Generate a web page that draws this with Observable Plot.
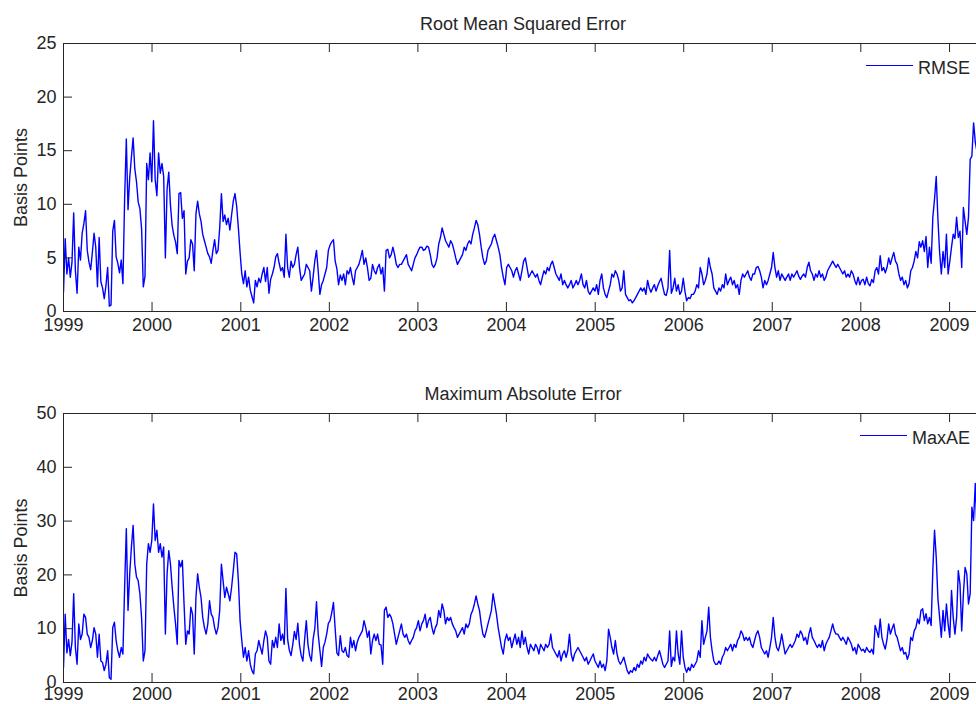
<!DOCTYPE html>
<html><head><meta charset="utf-8">
<script src="https://cdn.jsdelivr.net/npm/d3@7"></script>
<script src="https://cdn.jsdelivr.net/npm/@observablehq/plot@0.6"></script>
<style>
html,body{margin:0;padding:0;background:#fff;}
body{width:976px;height:704px;overflow:hidden;}
#chart > svg{display:block;}
</style></head>
<body><div id="chart"></div>
<script>
// Weekly observations starting at this date
const seriesStart = "1999-01-01";
const axisEnd = "2009-04-22";
const yearTicks = [1999, 2000, 2001, 2002, 2003, 2004, 2005, 2006, 2007, 2008, 2009];
const rmseTicks = [0, 5, 10, 15, 20, 25];
const maxaeTicks = [0, 10, 20, 30, 40, 50];
const titles = ["Root Mean Squared Error", "Maximum Absolute Error"];
const seriesNames = ["RMSE", "MaxAE"];
const yLabel = "Basis Points";

// Root mean squared error, basis points (weekly)
const rmse = [
1.8,6.8,3.5,5.0,3.2,4.6,9.2,3.8,1.7,6.0,
4.8,7.3,8.2,9.4,5.7,4.6,3.9,5.5,7.3,6.0,
2.3,6.9,2.8,2.2,1.2,2.4,4.1,0.5,0.6,7.5,
8.5,5.1,4.5,3.6,4.8,2.6,10.5,16.1,9.5,12.5,
14.4,16.2,13.3,12.1,10.2,9.6,7.7,2.3,3.3,13.8,
12.3,14.8,12.1,17.8,12.3,10.8,14.8,12.9,13.8,12.6,
5.0,11.4,13.0,9.9,8.0,7.1,6.5,
5.4,11.0,11.1,8.7,9.4,3.5,4.7,5.0,6.7,6.3,
3.8,9.1,10.3,9.1,8.4,7.2,6.6,6.0,5.4,5.1,
4.5,5.7,6.7,5.4,5.7,7.8,11.0,8.4,9.0,8.1,
8.7,7.6,9.0,10.3,11.0,9.8,7.8,5.5,3.5,2.6,
3.8,2.3,3.2,2.0,1.4,0.8,2.9,2.3,3.1,2.7,
3.5,4.1,2.8,4.1,1.7,3.0,3.5,4.1,5.1,5.4,
4.5,3.8,4.1,3.2,
7.2,4.1,3.2,4.7,4.1,4.4,5.3,6.0,4.1,2.9,
3.2,3.5,4.4,4.1,3.8,1.9,3.2,4.7,5.7,3.8,
1.6,2.5,2.9,3.5,4.1,5.7,
6.2,6.5,6.7,4.7,4.0,2.5,3.4,2.9,3.5,2.5,
3.8,3.5,4.1,3.2,2.5,3.8,4.1,4.4,5.0,5.7,
4.4,5.0,4.1,2.9,3.1,4.4,3.8,3.5,4.1,4.4,
3.5,4.1,1.9,5.7,5.8,5.0,5.3,6.0,5.3,4.4,
4.1,4.4,4.4,4.7,5.0,5.3,4.4,4.1,3.8,4.4,
5.0,5.3,5.7,6.0,6.0,5.7,5.8,6.1,6.0,5.3,
4.4,4.1,4.4,5.0,6.3,6.9,7.8,7.2,6.6,6.3,
6.0,6.6,6.3,5.7,5.0,4.4,4.7,5.0,5.3,6.0,
5.7,6.3,6.6,6.3,7.2,7.8,8.5,8.1,7.2,6.0,
5.0,4.4,4.7,5.7,6.0,6.3,6.9,7.2,6.6,6.0,
5.3,4.1,3.2,2.5,4.1,4.4,4.1,3.8,3.2,3.8,
4.1,3.5,2.9,3.8,4.7,5.0,4.1,3.2,3.5,3.8,
3.5,3.2,3.5,2.9,2.5,3.2,3.8,3.5,4.1,3.8,
4.4,4.7,4.1,3.5,3.2,2.9,3.5,2.5,2.9,2.5,
2.2,2.5,2.9,2.2,2.5,2.9,2.5,2.9,3.5,2.5,
2.2,2.9,1.9,1.6,1.9,2.2,1.9,2.5,1.6,2.9,
3.5,2.2,1.6,1.3,1.9,2.5,3.5,3.2,3.8,3.5,
2.9,1.9,2.2,3.8,1.6,1.3,1.0,1.1,0.8,1.0,
1.3,1.6,1.9,2.2,1.9,2.2,1.6,2.9,2.2,
1.8,2.2,2.5,1.9,2.4,2.8,3.1,2.3,1.6,1.5,
2.2,5.7,1.7,2.2,3.1,1.9,2.5,1.6,1.9,3.1,
1.9,1.0,1.3,1.2,1.6,1.6,1.9,2.5,2.2,4.1,
3.5,2.5,2.9,3.5,5.0,4.1,3.5,2.2,1.9,1.6,
2.2,1.9,2.5,2.2,3.5,2.5,2.9,3.2,2.5,2.9,
2.2,2.5,1.6,2.9,3.5,3.2,3.5,3.8,3.2,2.9,
3.5,3.5,4.1,4.2,3.8,3.2,2.2,2.9,2.5,2.9,
3.5,4.1,5.5,4.1,3.2,3.8,2.9,3.5,3.2,2.9,
3.2,3.5,2.9,3.5,3.2,3.5,3.8,3.3,3.0,3.3,
3.5,3.2,4.1,4.6,3.8,3.5,2.9,3.5,3.2,3.8,
3.2,3.5,2.9,3.2,3.8,4.1,4.4,4.7,4.4,4.1,
4.4,4.1,3.8,3.5,3.8,3.2,3.5,3.2,3.8,3.5,
2.9,2.5,3.2,2.5,2.9,3.0,2.5,3.2,2.6,2.4,
3.0,2.7,3.8,4.1,3.5,5.2,3.8,4.1,3.6,4.1,
5.0,4.4,5.0,5.5,4.7,4.4,3.5,2.9,3.2,2.5,
2.9,2.2,2.6,3.8,4.1,4.7,5.6,5.0,6.5,6.0,
6.6,5.6,7.0,4.1,6.0,4.5,8.8,10.5,12.6,8.6,
5.5,3.5,5.6,4.1,7.2,3.5,4.7,6.0,7.2,6.8,
8.8,6.9,7.5,4.1,9.7,8.4,7.2,8.8,14.2,14.5,
17.6,15.8,14.9
];

// Maximum absolute error, basis points (weekly)
const maxae = [
2.8,12.7,5.5,8.0,5.0,7.5,16.5,6.5,3.4,10.9,
8.0,9.0,12.7,12.1,9.0,8.4,6.5,7.8,10.2,9.0,
4.7,9.0,4.0,3.7,2.2,3.4,5.9,0.9,0.6,10.2,
11.2,7.8,5.9,4.7,6.5,5.3,17.7,28.6,13.4,20.2,
25.2,29.2,22.0,19.6,18.9,16.5,12.0,4.0,5.9,22.0,
25.8,24.2,26.4,33.2,26.4,28.3,24.2,25.8,23.3,25.2,
9.0,20.2,24.5,22.0,17.7,14.0,10.9,
7.1,22.7,21.5,22.7,14.6,7.1,9.6,9.0,14.0,12.7,
5.3,15.8,20.2,17.7,15.8,12.1,10.2,9.0,10.9,15.2,
12.7,12.1,10.2,9.0,10.2,13.4,22.0,18.9,15.8,17.7,
16.5,15.2,17.7,20.8,24.2,23.9,18.9,11.5,7.8,4.7,
6.5,4.0,5.9,3.4,2.2,1.6,5.3,5.9,7.8,6.5,
5.3,7.8,9.6,8.4,4.0,3.4,7.8,6.5,8.4,6.5,
10.9,7.8,9.0,7.1,
17.5,8.0,6.0,5.0,7.0,9.5,8.0,11.0,7.0,5.0,
4.0,8.0,11.5,7.0,5.0,4.0,8.0,10.0,15.0,9.0,
6.0,3.0,6.5,7.5,9.0,11.0,
11.5,13.0,14.9,10.0,5.5,5.0,8.7,5.9,5.6,6.5,
5.0,4.7,8.4,6.5,7.8,5.9,7.5,8.4,9.0,9.6,
11.5,10.2,8.4,9.6,5.3,7.8,9.0,7.8,9.0,7.1,
7.0,3.4,13.4,14.0,12.1,12.7,12.1,10.9,9.0,7.1,
8.4,9.6,10.9,9.0,8.4,9.0,7.8,7.1,7.8,8.4,
9.6,10.2,11.5,9.6,10.9,11.5,12.7,10.2,11.5,12.1,
10.2,9.0,10.2,10.9,13.4,12.1,14.6,13.4,10.9,12.1,
11.5,12.1,10.9,10.2,9.6,8.4,9.0,9.6,10.2,9.0,
10.9,10.2,10.9,12.7,13.4,14.6,16.1,14.6,13.4,10.9,
9.0,8.4,9.6,10.9,12.1,13.4,16.5,14.6,12.7,10.2,
8.4,6.5,5.3,7.8,9.0,7.8,8.4,6.5,7.8,9.0,
7.1,8.4,6.5,9.6,7.1,8.4,6.5,5.3,7.1,6.5,
5.9,7.1,6.5,5.3,7.1,6.5,5.9,7.1,6.5,7.1,
9.0,6.5,5.9,5.3,4.7,5.9,4.0,5.3,5.9,4.7,
5.9,9.0,5.3,4.0,5.3,5.9,6.5,5.9,5.3,4.7,
4.0,4.7,3.4,4.0,4.7,5.3,4.0,3.4,2.8,4.0,
2.8,3.4,2.2,4.0,9.9,8.4,6.5,5.3,7.8,5.3,
4.0,3.4,4.0,4.7,3.4,2.2,1.6,2.2,1.9,2.8,
2.2,3.4,2.8,4.0,3.4,4.7,4.0,5.3,4.7,
4.3,4.0,4.7,4.0,5.0,5.9,4.7,3.4,2.8,3.4,
4.0,9.6,3.0,4.7,4.0,9.6,5.3,3.4,9.6,4.7,
2.8,1.9,2.8,2.2,3.4,2.8,3.4,4.0,5.9,4.7,
11.5,7.1,8.4,9.6,14.0,8.4,5.9,4.0,3.4,3.4,
4.0,3.4,4.7,5.3,6.5,5.9,6.5,7.1,5.9,7.1,
6.5,7.8,8.4,9.6,9.0,7.8,8.4,7.8,8.4,7.1,
6.5,7.8,9.0,9.6,8.4,6.5,5.9,5.3,5.9,4.7,
6.5,8.4,12.1,8.4,6.5,5.9,7.1,9.0,7.1,5.3,
5.9,6.5,7.1,6.5,7.1,7.8,9.0,8.4,9.6,9.0,
7.8,8.4,7.1,9.0,10.2,8.4,7.8,7.1,6.5,7.1,
6.5,7.8,5.9,7.1,7.8,8.4,9.6,10.9,9.6,9.0,
9.0,8.4,7.8,8.4,7.8,7.1,8.4,7.8,7.1,5.9,
6.5,5.3,7.1,6.5,5.9,6.2,5.6,6.5,5.9,5.6,
6.2,5.3,10.6,9.6,8.4,11.8,8.4,7.1,6.2,8.0,
10.9,9.0,10.0,10.9,9.0,8.4,7.1,5.9,6.5,5.3,
5.6,4.3,5.3,8.4,7.8,9.6,10.2,11.8,10.9,13.4,
13.7,11.5,12.8,10.9,12.1,10.6,21.0,28.3,23.3,15.5,
12.1,8.4,13.4,9.6,14.6,10.9,8.4,17.1,12.1,9.0,
12.1,20.8,18.3,9.6,16.5,21.4,20.2,14.6,16.5,32.6,
30.1,37.0,28.3
];

const t0 = new Date(seriesStart);
const t1 = new Date(axisEnd);
const weekDates = rmse.map((_, i) => d3.utcDay.offset(t0, 7 * i));
const yearDates = yearTicks.map(y => new Date(Date.UTC(y, 0, 1)));

const W = 976, ML = 63, MR = 0;
const ink = "#262626";
const blue = "#0000ff";
const font = "'Liberation Sans', Arial, Helvetica, sans-serif";

function panel({values, title, name, yTicks, height, marginTop, marginBottom, xPad}) {
  const data = values.map((v, i) => ({date: weekDates[i], v}));
  const ph = height - marginTop - marginBottom;
  const pw = W - ML - MR;
  const yMax = yTicks[yTicks.length - 1];
  const legend = (index, scales, vals, dims) => {
    const g = d3.create("svg:g");
    const right = dims.width - dims.marginRight;
    const top = dims.marginTop;
    const txtX = right - (name === "RMSE" ? 58 : 64);
    g.append("line")
      .attr("x1", txtX - 52).attr("x2", txtX - 5)
      .attr("y1", top + 22.5).attr("y2", top + 22.5)
      .attr("stroke", blue).style("stroke", blue).attr("stroke-width", 1.2);
    g.append("text")
      .attr("x", txtX).attr("y", top + 30.5)
      .attr("text-anchor", "start")
      .attr("fill", ink).attr("font-size", 18).attr("font-family", font)
      .text(name);
    return g.node();
  };
  return Plot.plot({
    width: W, height,
    marginLeft: ML, marginRight: MR, marginTop, marginBottom,
    style: {fontFamily: font, fontSize: "18px", color: ink, background: "#fff", overflow: "visible"},
    x: {type: "utc", domain: [t0, t1]},
    y: {domain: [0, yMax]},
    marks: [
      Plot.lineY(data, {x: "date", y: "v", stroke: blue, strokeWidth: 1.4, clip: true}),
      Plot.ruleY([0, yMax], {stroke: ink, strokeWidth: 1}),
      Plot.ruleX([t0], {stroke: ink, strokeWidth: 1}),
      Plot.tickX(yearDates, {stroke: ink, insetTop: ph - 9}),
      Plot.tickX(yearDates, {stroke: ink, insetBottom: ph - 9}),
      Plot.tickY(yTicks, {stroke: ink, insetRight: pw - 9}),
      Plot.axisX({ticks: yearDates, anchor: "bottom", tickSize: 0, tickPadding: xPad,
                  tickFormat: d3.utcFormat("%Y"), fontSize: 18, label: null}),
      Plot.axisY({ticks: yTicks, anchor: "left", tickSize: 0, tickPadding: 7,
                  fontSize: 18, label: null}),
      Plot.text([title], {frameAnchor: "top", dx: 3, dy: -19, lineAnchor: "middle",
                          textAnchor: "middle", fontSize: 18, fill: ink}),
      Plot.text([yLabel], {frameAnchor: "left", dx: -42, rotate: -90, lineAnchor: "middle",
                           textAnchor: "middle", fontSize: 18, fill: ink}),
      legend
    ]
  });
}

const chart = document.getElementById("chart");
chart.append(panel({values: rmse, title: titles[0], name: seriesNames[0], yTicks: rmseTicks,
                    height: 352, marginTop: 43, marginBottom: 41, xPad: 7}));
chart.append(panel({values: maxae, title: titles[1], name: seriesNames[1], yTicks: maxaeTicks,
                    height: 352, marginTop: 61, marginBottom: 22, xPad: 5}));
</script>
</body></html>
